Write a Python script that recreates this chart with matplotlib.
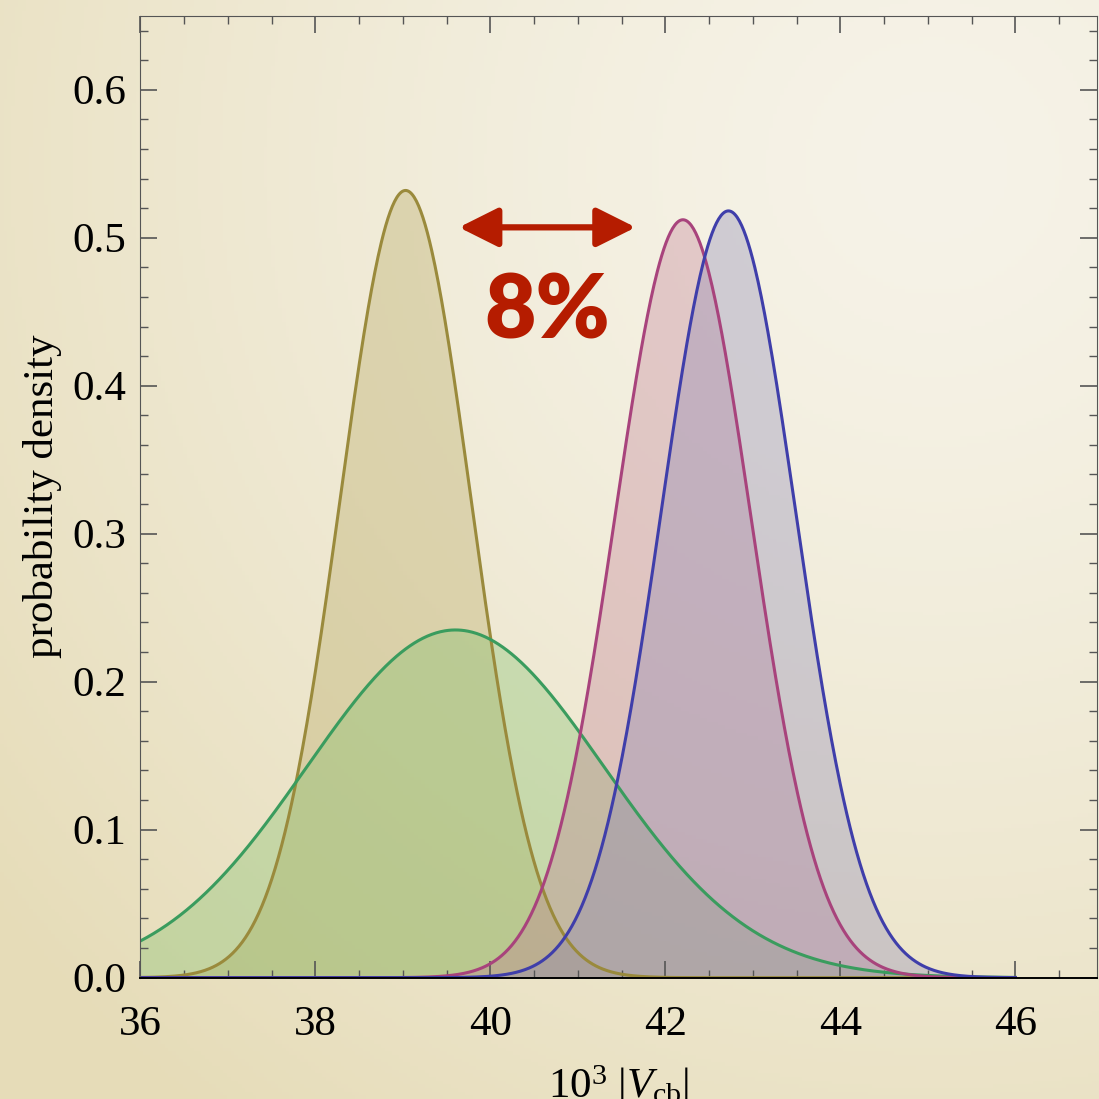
import numpy as np
import matplotlib.pyplot as plt
from matplotlib.ticker import MultipleLocator

plt.rcParams['font.family'] = ['Liberation Serif', 'DejaVu Serif']
plt.rcParams['mathtext.fontset'] = 'custom'
plt.rcParams['mathtext.rm'] = 'Liberation Serif'
plt.rcParams['mathtext.it'] = 'Liberation Serif:italic'

# Vcb determinations: central value and width (units of 10^-3)
names = ['inclusive', 'exclusive wide', 'fit A', 'fit B']
means = [39.03, 39.60, 42.20, 42.72]
sigmas = [0.750, 1.698, 0.779, 0.770]
line_colors = ['#9a8a3c', '#3a9c5e', '#a8437c', '#3f3eaa']
fill_colors = ['#b5a65e', '#7fbf6a', '#c07c94', '#8a86b4']

x_range = [36, 46]
arrow_span = [39.64, 41.66]
arrow_y = 0.507
label_text = '8%'

fig = plt.figure(figsize=(10.99, 10.99), dpi=100)

# paper-like background, darker towards the left and bottom edges
bg = fig.add_axes([0, 0, 1, 1], zorder=-10)
gx, gy = np.meshgrid(np.linspace(0, 1, 300), np.linspace(0, 1, 300))
d = np.clip(np.hypot(gx - 0.85, gy - 0.85) / 1.1, 0, 1) ** 1.4
light = np.array([246, 243, 232]) / 255
dark = np.array([230, 220, 184]) / 255
img = light[None, None, :] * (1 - d[..., None]) + dark[None, None, :] * d[..., None]
bg.imshow(img, origin='lower', extent=[0, 1, 0, 1], aspect='auto')
bg.axis('off')

ax = fig.add_axes([0.1278, 0.1104, 0.8702, 0.8753])
ax.set_facecolor('none')

x = np.linspace(x_range[0], x_range[1], 800)
for mu, s, lc, fc in zip(means, sigmas, line_colors, fill_colors):
    y = np.exp(-0.5 * ((x - mu) / s) ** 2) / (s * np.sqrt(2 * np.pi))
    ax.fill_between(x, 0, y, color=fc, alpha=0.34, lw=0)
    ax.plot(x, y, color=lc, lw=2.2)

ax.annotate('', xy=(arrow_span[0], arrow_y), xytext=(arrow_span[1], arrow_y),
            arrowprops=dict(arrowstyle='<|-|>,head_length=2.4,head_width=1.2',
                            color='#b51c00', lw=4.5, shrinkA=0, shrinkB=0))
ax.text(np.mean(arrow_span), 0.4495, label_text, color='#b51c00',
        fontsize=64, fontweight='heavy', family='Lato', ha='center', va='center')

ax.set_xlim(36, 46.93)
ax.set_ylim(0, 0.65)
ax.xaxis.set_major_locator(MultipleLocator(2))
ax.xaxis.set_minor_locator(MultipleLocator(0.5))
ax.yaxis.set_major_locator(MultipleLocator(0.1))
ax.yaxis.set_minor_locator(MultipleLocator(0.02))
ax.yaxis.set_major_formatter(plt.FormatStrFormatter('%.1f'))
ax.set_yticks(np.arange(0, 0.61, 0.1))

ax.tick_params(which='both', direction='in', top=True, right=True,
               color='#555555', labelsize=31)
ax.tick_params(which='major', length=12, width=1.2)
ax.tick_params(which='minor', length=6, width=1.0)
ax.tick_params(axis='x', pad=20)
ax.tick_params(axis='y', pad=10)
for side in ['left', 'top', 'right']:
    ax.spines[side].set_color('#555555')
ax.spines['bottom'].set_color('black')
ax.spines['bottom'].set_linewidth(1.4)

ax.set_xlabel(r'$10^3\ |V_{\rm cb}|$', fontsize=31, labelpad=14)
ax.set_ylabel('probability density', fontsize=31, labelpad=8)

fig.savefig('out.png', dpi=100)
